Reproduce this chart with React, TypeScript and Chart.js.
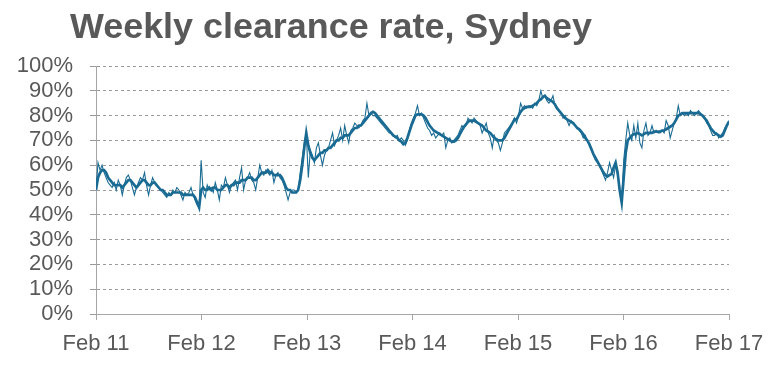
import { useEffect, useRef } from 'react';
import { Chart, registerables } from 'chart.js';

Chart.register(...registerables);

const TITLE = 'Weekly clearance rate, Sydney';
const FONT = '"Liberation Sans", Arial, Helvetica, sans-serif';
const WEEKS_PER_YEAR = 52.18;

const xTickLabels = ['Feb 11', 'Feb 12', 'Feb 13', 'Feb 14', 'Feb 15', 'Feb 16', 'Feb 17'];
const yTickValues = [0, 10, 20, 30, 40, 50, 60, 70, 80, 90, 100];

// Weekly clearance rate (%), one value per week from Feb 2011
const weekly2011 = [50, 61, 58, 60, 57, 55, 53, 52, 51, 53, 50, 54, 52, 48, 52, 55, 56, 54, 51, 48, 51, 53, 55, 54, 57, 52, 48, 52, 55, 53, 52, 51, 50, 49, 48, 47, 49, 48, 50, 49, 51, 50, 48, 46, 49, 48, 49, 51, 48, 46, 44, 43];
const weekly2012 = [62, 49, 47, 52, 50, 51, 49, 53, 50, 46, 52, 51, 55, 52, 49, 52, 53, 54, 50, 55, 59, 50, 54, 55, 57, 54, 53, 50, 55, 60, 57, 56, 58, 57, 56, 58, 53, 56, 57, 55, 54, 52, 49, 46, 49, 50, 50, 49, 50, 57, 63, 69];
const weekly2013 = [73, 55, 66, 64, 61, 67, 69, 64, 60, 64, 66, 67, 70, 73, 68, 70, 72, 75, 70, 76, 72, 69, 74, 75, 77, 76, 75, 76, 78, 79, 85, 80, 81, 80, 80, 79, 78, 77, 76, 75, 74, 73, 73, 72, 71, 72, 70, 71, 70, 68, 70, 74];
const weekly2014 = [77, 79, 81, 84, 80, 81, 79, 77, 75, 74, 72, 73, 71, 72, 73, 72, 73, 67, 70, 71, 69, 70, 71, 72, 74, 76, 75, 76, 79, 78, 77, 79, 78, 77, 76, 73, 75, 77, 73, 71, 67, 72, 70, 69, 66, 69, 73, 74, 75, 76, 77, 79];
const weekly2015 = [77, 80, 85, 83, 84, 83, 84, 84, 83, 85, 84, 86, 90, 87, 88, 86, 85, 86, 88, 84, 83, 82, 81, 79, 80, 78, 76, 78, 77, 76, 75, 74, 73, 71, 72, 70, 68, 66, 64, 62, 61, 60, 58, 56, 54, 57, 61, 58, 55, 60, 56, 50, 45];
const weekly2016 = [62, 70, 77, 72, 70, 76, 71, 77, 69, 67, 74, 77, 72, 73, 76, 73, 74, 73, 73, 74, 73, 78, 76, 71, 74, 77, 79, 84, 80, 81, 80, 81, 80, 82, 81, 80, 81, 82, 81, 80, 79, 77, 76, 74, 72, 72, 73, 71, 72, 73, 75, 76, 78];

// Smoothed clearance rate (%), same weeks
const smooth2011 = [50, 55, 57, 58, 58, 57, 55, 54, 53, 52, 52, 52, 52, 51, 52, 53, 54, 54, 53, 52, 51, 52, 53, 54, 54, 53, 52, 52, 53, 53, 52, 51, 50, 50, 49, 48, 48, 48, 49, 49, 49, 49, 49, 48, 48, 48, 48, 48, 48, 47, 45, 43];
const smooth2012 = [50, 51, 50, 50, 51, 50, 51, 51, 50, 50, 50, 51, 52, 52, 51, 52, 52, 53, 53, 53, 54, 54, 54, 55, 55, 55, 54, 54, 55, 56, 57, 57, 57, 58, 57, 57, 56, 56, 56, 56, 55, 53, 51, 50, 50, 49, 49, 49, 50, 54, 60, 67];
const smooth2013 = [73, 68, 65, 63, 62, 63, 64, 65, 65, 66, 66, 67, 67, 68, 69, 70, 70, 71, 71, 72, 72, 72, 73, 74, 75, 75, 76, 76, 77, 78, 79, 80, 81, 81.5, 81, 80, 79, 78, 77, 76, 75, 74, 73, 72, 71.5, 71, 70, 69.5, 68.5, 69, 71, 73.5];
const smooth2014 = [76, 78, 80, 80.5, 80.5, 80.5, 80, 79, 77.5, 76, 75, 74, 73.5, 73, 72.5, 72, 71.5, 71, 70.5, 70, 69.5, 69.5, 70, 71, 72.5, 74, 75.5, 76.5, 77.5, 78, 78, 78, 77.5, 77, 76.5, 76, 75, 74, 73.5, 73, 72, 71, 70.5, 70, 70, 70, 71, 72.5, 74, 75.5, 77, 78.5];
const smooth2015 = [78.5, 80, 81.5, 82.5, 83, 83.5, 83.5, 83.5, 84, 84.5, 85, 86, 86.5, 87.5, 88, 87, 86.5, 86, 85.5, 84.5, 83, 82, 81, 80, 79, 78.5, 78, 77.5, 77, 76, 75, 74.5, 73.5, 72.5, 71, 70, 68.5, 66.5, 64.5, 63, 61.5, 60, 58.5, 57, 56, 55.5, 56, 56.5, 59, 61, 57, 50, 45];
const smooth2016 = [55, 65, 70, 71, 72, 72.5, 72.5, 73, 72.5, 72, 72.5, 73, 73, 73, 73, 73.5, 73.5, 73.5, 73.5, 74, 74, 74.5, 75, 75.5, 76, 77, 78.5, 80, 80.5, 81, 81, 81, 81, 81, 81, 81, 81, 81, 80.5, 80, 79, 78, 76.5, 75, 74, 73, 72.5, 72, 71.5, 72, 74, 76, 77.5];

const weekly = [...weekly2011, ...weekly2012, ...weekly2013, ...weekly2014, ...weekly2015, ...weekly2016];
const smooth = [...smooth2011, ...smooth2012, ...smooth2013, ...smooth2014, ...smooth2015, ...smooth2016];

const toPoints = (arr: number[]) => arr.map((y, i) => ({ x: i / WEEKS_PER_YEAR, y }));

const LINE_COLOR = '#1a6b93';
const TEXT_COLOR = '#595959';

const titlePlugin = {
  id: 'customTitle',
  afterDraw(chart: any) {
    const { ctx } = chart;
    ctx.save();
    ctx.font = `bold 35px ${FONT}`;
    ctx.fillStyle = TEXT_COLOR;
    ctx.textAlign = 'left';
    ctx.textBaseline = 'alphabetic';
    const w = ctx.measureText(TITLE).width;
    const target = 522;
    ctx.translate(70, 38);
    ctx.scale(target / w, 1);
    ctx.fillText(TITLE, 0, 0);
    ctx.restore();
  },
};

export default function App() {
  const ref = useRef<HTMLCanvasElement | null>(null);

  useEffect(() => {
    if (!ref.current) return;
    const chart = new Chart(ref.current, {
      type: 'line',
      data: {
        datasets: [
          {
            label: 'Smoothed',
            data: toPoints(smooth),
            borderColor: LINE_COLOR,
            borderWidth: 2.7,
            pointRadius: 0,
            tension: 0,
            fill: false,
          },
          {
            label: 'Weekly',
            data: toPoints(weekly),
            borderColor: LINE_COLOR,
            borderWidth: 1.1,
            pointRadius: 0,
            tension: 0,
            fill: false,
          },
        ],
      },
      options: {
        responsive: false,
        animation: false,
        layout: { padding: { top: 66, right: 43, bottom: 0, left: 0 } },
        plugins: {
          legend: { display: false },
          tooltip: { enabled: false },
          title: { display: false },
        },
        scales: {
          x: {
            type: 'linear',
            min: 0,
            max: xTickLabels.length - 1,
            afterBuildTicks: (s: any) => {
              s.ticks = xTickLabels.map((_, i) => ({ value: i }));
            },
            afterFit: (s: any) => {
              s.height = 53;
              s.paddingLeft = 0;
              s.paddingRight = 0;
            },
            ticks: {
              callback: (v: any) => xTickLabels[v] ?? '',
              color: TEXT_COLOR,
              font: { family: FONT, size: 22 },
              padding: 11,
              maxRotation: 0,
              autoSkip: false,
            },
            grid: { drawOnChartArea: false, drawTicks: true, tickLength: 6, color: '#a6a6a6' },
            border: { display: true, color: '#a6a6a6', width: 1 },
          },
          y: {
            min: 0,
            max: 100,
            afterBuildTicks: (s: any) => {
              s.ticks = yTickValues.map((v) => ({ value: v }));
            },
            afterFit: (s: any) => {
              s.width = 96;
            },
            ticks: {
              callback: (v: any) => `${v}%`,
              color: TEXT_COLOR,
              font: { family: FONT, size: 22 },
              padding: 17,
              autoSkip: false,
            },
            grid: { color: '#9a9a9a', lineWidth: 1, tickLength: 6 },
            border: { display: true, color: '#a6a6a6', width: 1, dash: [3, 3] },
          },
        },
      },
      plugins: [titlePlugin],
    } as any);
    return () => chart.destroy();
  }, []);

  return (
    <div style={{ position: 'absolute', left: 0, top: 0, width: 772, height: 367, background: '#fff' }}>
      <canvas ref={ref} width={772} height={367} />
    </div>
  );
}
